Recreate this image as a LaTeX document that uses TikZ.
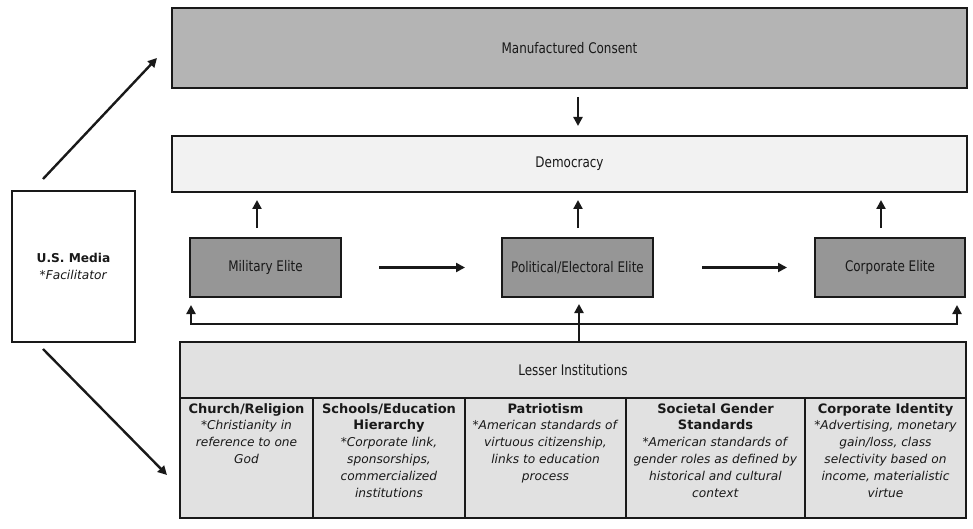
\documentclass[tikz,border=0pt]{standalone}
\usepackage{fontspec}
\setmainfont{DejaVu Sans}
\newfontfamily\condfont[FakeStretch=0.82]{DejaVu Sans}
\usetikzlibrary{arrows.meta}
\definecolor{mcfill}{RGB}{180,180,180}
\definecolor{demfill}{RGB}{242,242,242}
\definecolor{elitefill}{RGB}{150,150,150}
\definecolor{lesfill}{RGB}{225,225,225}
\definecolor{ink}{RGB}{25,25,25}
\tikzset{
  box/.style={draw=ink, line width=2.2pt, inner sep=0pt, outer sep=0pt, text=ink,
    font=\condfont\fontsize{14.6}{17}\selectfont},
  cell/.style={draw=ink, line width=2.2pt, inner sep=0pt, outer sep=0pt, fill=lesfill},
  celltext/.style={anchor=north, align=center, inner sep=0pt, text=ink,
    font=\fontsize{12.2}{16.8}\selectfont},
  hd/.style={font=\bfseries\fontsize{13}{16.8}\selectfont},
  arr/.style={draw=ink, line width=2.4pt, -{Triangle[length=9pt,width=9pt]}},
}
\newcommand{\hdtext}[1]{{\bfseries\fontsize{13}{16.8}\selectfont #1}}
\begin{document}
\begin{tikzpicture}[x=1pt,y=-1pt]
\useasboundingbox (0,0) rectangle (973,529);
% top boxes
\node[box, fill=mcfill, minimum width=795pt, minimum height=80pt] (mc) at (569.5,48) {Manufactured Consent};
\node[box, fill=demfill, minimum width=795pt, minimum height=56pt] (dem) at (569.5,164) {Democracy};
% elites
\node[box, fill=elitefill, minimum width=151pt, minimum height=59pt] (mil) at (265.5,267.5) {Military Elite};
\node[box, fill=elitefill, minimum width=151pt, minimum height=59pt] (pol) at (577.5,267.5) {Political/Electoral Elite};
\node[box, fill=elitefill, minimum width=150pt, minimum height=59pt] (corp) at (890,267.5) {Corporate Elite};
% media
\node[box, fill=white, minimum width=123pt, minimum height=151pt, align=center,
  font=\fontsize{12.2}{17}\selectfont] (media) at (73.5,266.5) {\textbf{U.S. Media}\\\textit{*Facilitator}};
% lesser institutions
\node[cell, minimum width=786pt, minimum height=56pt, text=ink, font=\condfont\fontsize{14.6}{17}\selectfont] (les) at (573,370) {Lesser Institutions};
\node[cell, minimum width=133pt, minimum height=120pt] (c1) at (246.5,458) {};
\node[cell, minimum width=152pt, minimum height=120pt] (c2) at (389,458) {};
\node[cell, minimum width=161pt, minimum height=120pt] (c3) at (545.5,458) {};
\node[cell, minimum width=179pt, minimum height=120pt] (c4) at (715.5,458) {};
\node[cell, minimum width=161pt, minimum height=120pt] (c5) at (885.5,458) {};
\node[celltext] (t1) at ([yshift=-5pt]c1.north) {\hdtext{Church/Religion}\\\textit{*Christianity in}\\\textit{reference to one}\\\textit{God}};
\node[celltext] (t2) at ([yshift=-5pt]c2.north) {\hdtext{Schools/Education}\\\hdtext{Hierarchy}\\\textit{*Corporate link,}\\\textit{sponsorships,}\\\textit{commercialized}\\\textit{institutions}};
\node[celltext] (t3) at ([yshift=-5pt]c3.north) {\hdtext{Patriotism}\\\textit{*American standards of}\\\textit{virtuous citizenship,}\\\textit{links to education}\\\textit{process}};
\node[celltext] (t4) at ([yshift=-5pt]c4.north) {\hdtext{Societal Gender}\\\hdtext{Standards}\\\textit{*American standards of}\\\textit{gender roles as defined by}\\\textit{historical and cultural}\\\textit{context}};
\node[celltext] (t5) at ([yshift=-5pt]c5.north) {\hdtext{Corporate Identity}\\\textit{*Advertising, monetary}\\\textit{gain/loss, class}\\\textit{selectivity based on}\\\textit{income, materialistic}\\\textit{virtue}};
% arrows
\draw[arr, shorten <=9pt, shorten >=10pt] (mc.south -| 578,0) -- (dem.north -| 578,0);
\draw[arr, shorten <=10pt, shorten >=8pt] (mil.north -| 257,0) -- (dem.south -| 257,0);
\draw[arr, shorten <=10pt, shorten >=8pt] (pol.north -| 578,0) -- (dem.south -| 578,0);
\draw[arr, shorten <=10pt, shorten >=8pt] (corp.north -| 881,0) -- (dem.south -| 881,0);
\draw[arr, shorten <=38pt, shorten >=37pt] (mil.east) -- (pol.west);
\draw[arr, shorten <=49pt, shorten >=28pt] (pol.east) -- (corp.west);
\coordinate (j) at (579,324);
\draw[arr, shorten >=7pt] (les.north -| j) -- (pol.south -| j);
\draw[arr, shorten >=8pt] (j) -| ([xshift=1pt]mil.south west);
\draw[arr, shorten >=8pt] (j) -| ([xshift=-8pt]corp.south east);
\coordinate (u1) at (43,179);
\coordinate (u2) at (157,58);
\coordinate (d1) at (43,349);
\coordinate (d2) at (167,475);
\draw[arr] (u1) -- (u2);
\draw[arr] (d1) -- (d2);
\end{tikzpicture}
\end{document}
